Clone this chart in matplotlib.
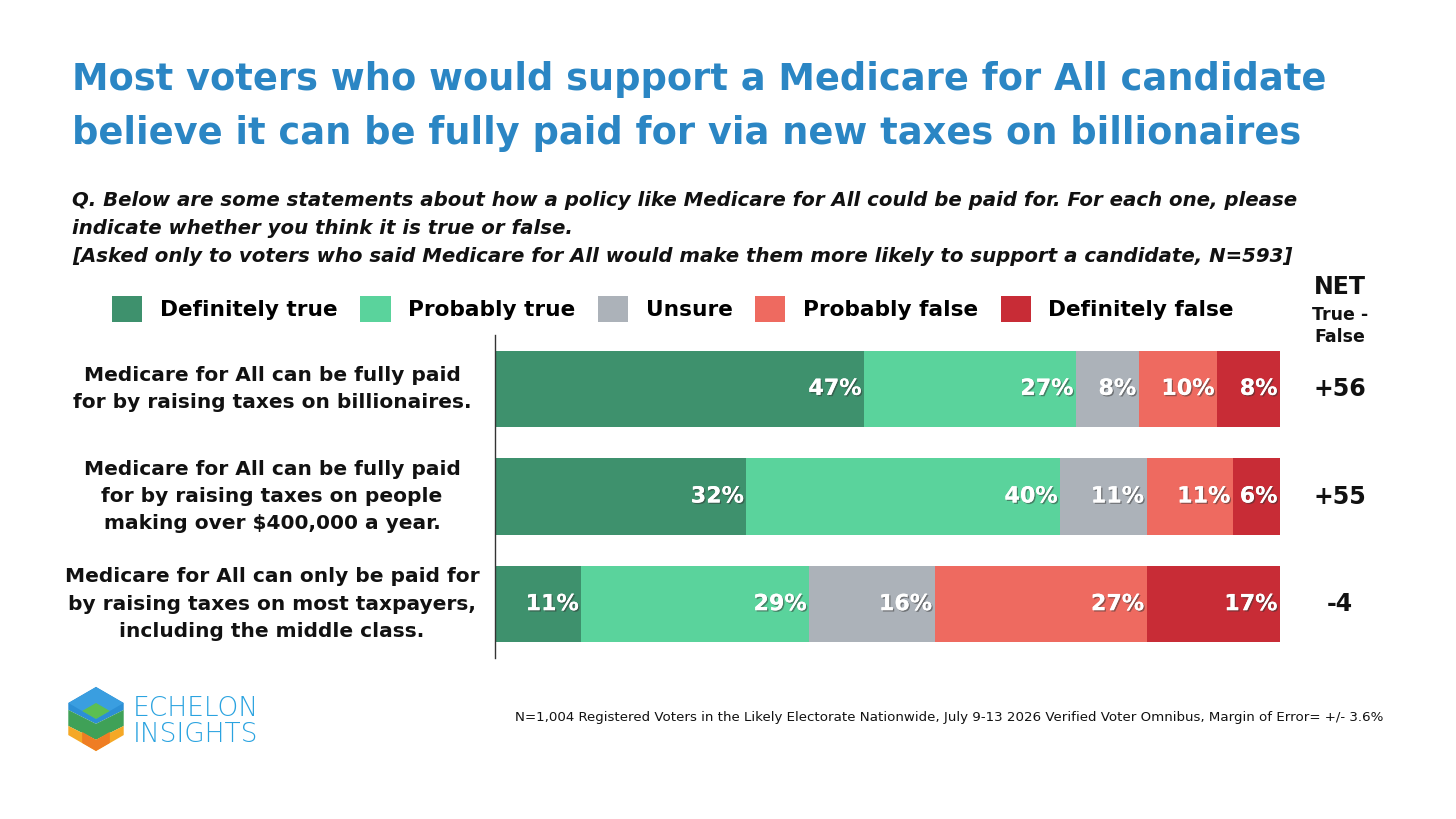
import matplotlib
matplotlib.use("Agg")
import matplotlib.pyplot as plt
from matplotlib.patches import Patch, Polygon, Rectangle
import matplotlib.patheffects as pe
import numpy as np

plt.rcParams['font.family'] = ['DejaVu Sans']

categories = [
    "Medicare for All can be fully paid\nfor by raising taxes on billionaires.",
    "Medicare for All can be fully paid\nfor by raising taxes on people\nmaking over $400,000 a year.",
    "Medicare for All can only be paid for\nby raising taxes on most taxpayers,\nincluding the middle class.",
]
series_names = ["Definitely true", "Probably true", "Unsure", "Probably false", "Definitely false"]
definitely_true = [47, 32, 11]
probably_true = [27, 40, 29]
unsure = [8, 11, 16]
probably_false = [10, 11, 27]
definitely_false = [8, 6, 17]
net_labels = ["+56", "+55", "-4"]
colors = ["#3E916D", "#5AD39C", "#ACB2B9", "#EE6A60", "#C82C36"]

W, H = 1456, 819
fig = plt.figure(figsize=(W / 100, H / 100), dpi=100)

def fx(px):
    return px / W

def fy(py):
    return 1 - py / H

title_color = "#2B86C4"
fig.text(fx(72), fy(80), "Most voters who would support a Medicare for All candidate",
         fontsize=26.5, fontweight='bold', color=title_color, va='center', ha='left')
fig.text(fx(72), fy(133), "believe it can be fully paid for via new taxes on billionaires",
         fontsize=26.5, fontweight='bold', color=title_color, va='center', ha='left')

sub_lines = ["Q. Below are some statements about how a policy like Medicare for All could be paid for. For each one, please",
             "indicate whether you think it is true or false.",
             "[Asked only to voters who said Medicare for All would make them more likely to support a candidate, N=593]"]
for i, line in enumerate(sub_lines):
    fig.text(fx(72), fy(200 + 28 * i), line, fontsize=14.2, fontweight='bold', style='italic',
             color='#111111', va='center', ha='left')

ax = fig.add_axes([fx(495), fy(658), fx(1280) - fx(495), fy(335) - fy(658)])
data = [definitely_true, probably_true, unsure, probably_false, definitely_false]
y = np.arange(len(categories))
left = np.zeros(len(categories))
for name, vals, c in zip(series_names, data, colors):
    vals = np.array(vals, dtype=float)
    ax.barh(y, vals, left=left, height=0.71, color=c, label=name)
    for yi, (l, v) in enumerate(zip(left, vals)):
        t = ax.text(l + v - 0.3, yi, f"{int(v)}%", ha='right', va='center',
                    color='white', fontsize=16, fontweight='bold')
        t.set_path_effects([pe.withSimplePatchShadow(offset=(1, -1), shadow_rgbFace='#333333', alpha=0.5),
                            pe.Normal()])
    left += vals

ax.set_xlim(0, 100)
ax.set_ylim(2.5, -0.5)
ax.set_xticks([])
ax.set_yticks([])
for s in ['top', 'right', 'bottom']:
    ax.spines[s].set_visible(False)
ax.spines['left'].set_color('#333333')
ax.spines['left'].set_linewidth(1)

for yi, cat in enumerate(categories):
    ax.annotate(cat, xy=(0, yi), xycoords='data', xytext=(-223, 0), textcoords='offset pixels',
                ha='center', va='center', multialignment='center', fontsize=14.5,
                fontweight='bold', color='#111111', linespacing=1.55)
    ax.annotate(net_labels[yi], xy=(100, yi), xycoords='data', xytext=(60, 0),
                textcoords='offset pixels', ha='center', va='center', fontsize=17,
                fontweight='bold', color='#111111')

fig.text(fx(1340), fy(287), "NET", fontsize=17, fontweight='bold', ha='center', va='center', color='#111111')
fig.text(fx(1340), fy(326), "True -\nFalse", fontsize=12.5, fontweight='bold', ha='center', va='center',
         color='#111111', linespacing=1.3)

handles = [Patch(facecolor=c, edgecolor='none') for c in colors]
fig.legend(handles, series_names, loc='center', bbox_to_anchor=(fx(673), fy(309)), ncol=5,
           frameon=False, handlelength=1.4, handleheight=1.4,
           handletextpad=0.8, columnspacing=1.05, prop={'weight': 'bold', 'size': 15.6})

fig.text(fx(1383), fy(718),
         "N=1,004 Registered Voters in the Likely Electorate Nationwide, July 9-13 2026 Verified Voter Omnibus, Margin of Error= +/- 3.6%",
         fontsize=9.6, ha='right', va='center', color='#111111')

# logo
lax = fig.add_axes([fx(64), fy(754), fx(128) - fx(64), fy(684) - fy(754)])
lax.set_xlim(-1.0, 1.0)
lax.set_ylim(-1.09, 1.09)
lax.axis('off')
s = np.sqrt(3) / 2
hexv = [(0, 1), (s, 0.5), (s, -0.5), (0, -1), (-s, -0.5), (-s, 0.5)]
hexp = Polygon(hexv, closed=True, facecolor='none', edgecolor='none')
lax.add_patch(hexp)
pieces = [
    (Polygon([(-1, 1.1), (1, 1.1), (1, 0.35), (0, -0.15), (-1, 0.35)], closed=True), '#2C8FD5'),
    (Polygon([(-s, 0.5), (0, 1), (s, 0.5), (0, 0)], closed=True), '#3A9EE0'),
    (Polygon([(-1, 0.35), (0, -0.15), (1, 0.35), (1, -0.15), (0, -0.65), (-1, -0.15)], closed=True), '#3FA157'),
    (Polygon([(-s * 0.5, 0.25), (0, 0.5), (s * 0.5, 0.25), (0, 0)], closed=True), '#5CBF52'),
    (Polygon([(-1, -0.15), (0, -0.65), (1, -0.15), (1, -1.1), (-1, -1.1)], closed=True), '#F5A826'),
    (Polygon([(-s * 0.5, -0.4), (0, -0.65), (s * 0.5, -0.4), (s * 0.5, -0.75), (0, -1.0), (-s * 0.5, -0.75)],
             closed=True), '#EF7D23'),
]
for poly, col in pieces:
    poly.set_facecolor(col)
    poly.set_edgecolor('none')
    lax.add_patch(poly)
    poly.set_clip_path(hexp)

fig.text(fx(133), fy(708), "ECHELON", fontsize=19, color='#2AA3E0', ha='left', va='center',
         fontweight='light')
fig.text(fx(133), fy(734), "INSIGHTS", fontsize=19, color='#2AA3E0', ha='left', va='center',
         fontweight='light')

fig.savefig("out.png", dpi=100, facecolor='white')
